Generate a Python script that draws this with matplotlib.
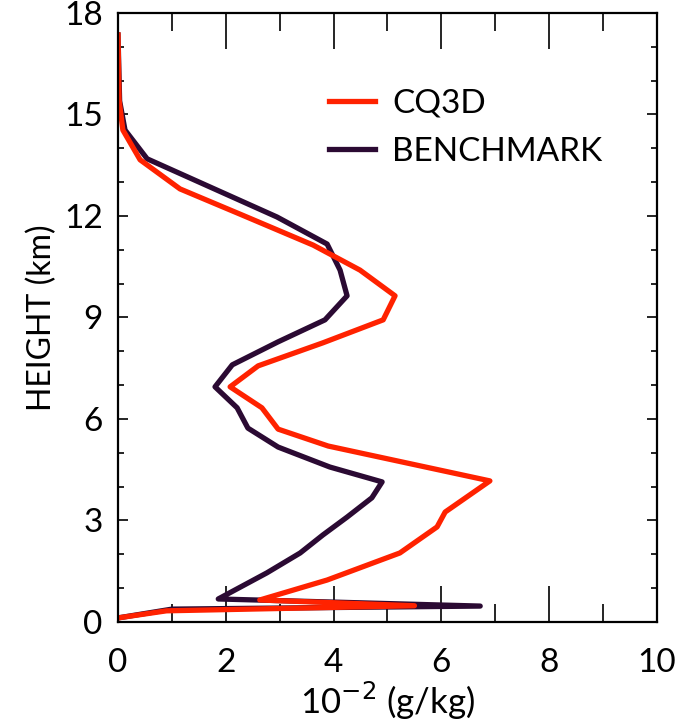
import matplotlib
matplotlib.use("Agg")
import matplotlib.pyplot as plt
from matplotlib.ticker import MultipleLocator

# CQ3D profile (10^-2 g/kg vs height in km)
cq3d_q = [0.0, 0.9, 5.5, 2.63, 3.88, 5.23, 5.92, 6.07, 6.9, 3.9, 2.97, 2.67,
          2.08, 2.6, 3.8, 4.92, 5.14, 4.49, 3.62, 2.3, 1.15, 0.41, 0.09, 0.02, 0.0]
cq3d_z = [0.12, 0.33, 0.48, 0.65, 1.24, 2.04, 2.81, 3.25, 4.17, 5.2, 5.7, 6.33,
          6.95, 7.57, 8.25, 8.93, 9.64, 10.4, 11.14, 12.03, 12.8, 13.66, 14.54, 15.43, 17.35]

# benchmark profile
bench_q = [0.0, 1.0, 6.72, 1.86, 2.76, 3.38, 3.8, 4.25, 4.71, 4.9, 3.93, 2.97,
           2.41, 2.21, 1.8, 2.12, 2.97, 3.84, 4.25, 4.12, 3.88, 2.95, 0.54, 0.13, 0.03, 0.0]
bench_z = [0.12, 0.38, 0.47, 0.68, 1.45, 2.04, 2.57, 3.1, 3.67, 4.14, 4.58, 5.17,
           5.73, 6.33, 6.95, 7.6, 8.28, 8.93, 9.64, 10.4, 11.17, 11.97, 13.69, 14.54, 15.4, 17.35]

red = "#ff2200"
dark = "#2b0a33"

fig = plt.figure(figsize=(6.95, 7.25), dpi=100)
ax = fig.add_axes([0.1698, 0.1421, 0.7755, 0.84])

l_bench, = ax.plot(bench_q, bench_z, color=dark, lw=3.8, label="BENCHMARK")
l_cq3d, = ax.plot(cq3d_q, cq3d_z, color=red, lw=3.8, label="CQ3D")

ax.set_xlim(0, 10)
ax.set_ylim(0, 18)
ax.xaxis.set_major_locator(MultipleLocator(2))
ax.xaxis.set_minor_locator(MultipleLocator(1))
ax.yaxis.set_major_locator(MultipleLocator(3))
ax.yaxis.set_minor_locator(MultipleLocator(1))

ax.tick_params(axis="x", which="major", direction="in", length=26, width=1.2,
               top=True, pad=19)
ax.tick_params(axis="x", which="minor", direction="in", length=13, width=1.2, top=True)
ax.tick_params(axis="y", which="major", direction="in", length=7, width=1.2,
               right=True, pad=11)
ax.tick_params(axis="y", which="minor", direction="in", length=4, width=1.2, right=True)
for s in ax.spines.values():
    s.set_linewidth(1.6)

for lab in ax.get_xticklabels() + ax.get_yticklabels():
    lab.set_fontfamily("Lato")
    lab.set_fontsize(24)

ax.set_xlabel(r"10$^{-2}$ (g/kg)", family="Lato", fontsize=25, labelpad=1)
ax.set_ylabel("HEIGHT (km)", family="Lato", fontsize=23, labelpad=5)

ax.legend(handles=[l_cq3d, l_bench], loc="upper left", bbox_to_anchor=(0.335, 0.925),
          frameon=False, prop={"family": "Lato", "size": 24}, handlelength=1.4,
          handletextpad=0.5, labelspacing=0.55)

fig.savefig("out.png", dpi=100)
